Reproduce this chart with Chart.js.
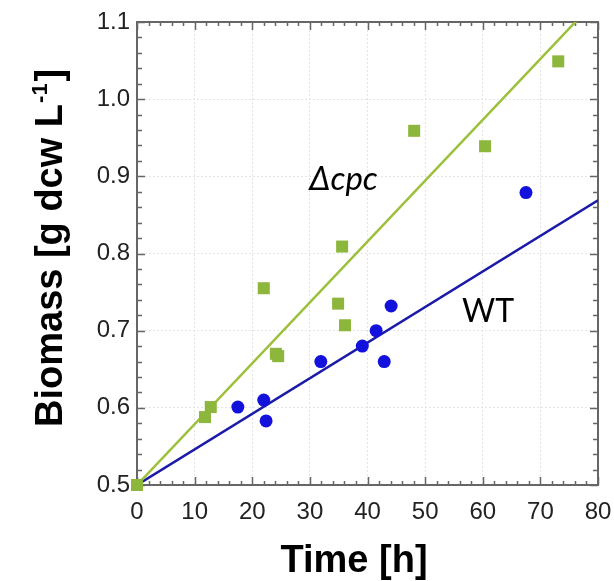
<!DOCTYPE html>
<html lang="en">
<head>
<meta charset="UTF-8">
<title>Biomass over time</title>
<script src="https://cdn.jsdelivr.net/npm/chart.js"></script>
<style>
  html, body { margin: 0; padding: 0; background: #fff; }
</style>
</head>
<body>
<canvas id="growthChart" width="614" height="581"></canvas>
<script>
// measured biomass, time [h] vs g dcw per litre
var cpcTime = [0, 11.8, 12.8, 22.0, 24.1, 24.5, 34.9, 35.6, 36.1, 48.1, 60.4, 73.1];
var cpcBiomass = [0.500, 0.588, 0.601, 0.755, 0.670, 0.667, 0.735, 0.809, 0.707, 0.959, 0.939, 1.049];
var wtTime = [17.5, 22.0, 22.4, 31.9, 39.1, 41.5, 42.9, 44.1, 67.5];
var wtBiomass = [0.601, 0.610, 0.583, 0.660, 0.680, 0.700, 0.660, 0.732, 0.879];

// straight-line fits starting at 0.5
var fitTime = [0, 80];
var cpcFit = [0.5, 1.131];
var wtFit = [0.5, 0.869];

var xTicks = [0, 10, 20, 30, 40, 50, 60, 70, 80];
var yTicks = [0.5, 0.6, 0.7, 0.8, 0.9, 1.0, 1.1];

var cpcGreen = '#8db63c';
var cpcLine = '#9cc03a';
var wtBlue = '#1212dc';
var wtLine = '#1b1ba8';

function pairs(xs, ys) {
  return xs.map(function (x, i) { return { x: x, y: ys[i] }; });
}

// inward tick marks on all four sides, frame, labels and axis titles
var decorPlugin = {
  id: 'decor',
  beforeDatasetsDraw: function (chart) {
    var ctx = chart.ctx, a = chart.chartArea;
    var x = chart.scales.x, y = chart.scales.y;
    ctx.save();
    ctx.strokeStyle = '#666';
    ctx.lineWidth = 1.5;
    ctx.beginPath();
    for (var i = 0; i <= 40; i++) {
      var px = Math.round(x.getPixelForValue(i * 2)) + 0.5;
      var len = i % 5 === 0 ? 8 : 4;
      ctx.moveTo(px, a.bottom); ctx.lineTo(px, a.bottom - len);
      ctx.moveTo(px, a.top); ctx.lineTo(px, a.top + len);
    }
    for (var j = 0; j <= 30; j++) {
      var py = Math.round(y.getPixelForValue(0.5 + j * 0.02)) + 0.5;
      var ylen = j % 5 === 0 ? 8 : 5;
      ctx.moveTo(a.left, py); ctx.lineTo(a.left + ylen, py);
      ctx.moveTo(a.right, py); ctx.lineTo(a.right - ylen, py);
    }
    ctx.stroke();
    ctx.lineWidth = 2;
    ctx.strokeStyle = '#666';
    ctx.strokeRect(a.left, a.top, a.right - a.left, a.bottom - a.top);
    ctx.restore();
  },
  afterDraw: function (chart) {
    var ctx = chart.ctx;
    var x = chart.scales.x, y = chart.scales.y;
    ctx.save();
    ctx.fillStyle = '#000';
    ctx.textBaseline = 'alphabetic';
    ctx.textAlign = 'left';

    ctx.font = 'italic 33px Lato';
    ctx.fillText('\u0394cpc', x.getPixelForValue(29.9), y.getPixelForValue(0.882));
    ctx.font = '32px Lato';
    ctx.fillText('WT', x.getPixelForValue(56.4), y.getPixelForValue(0.711));

    // x axis title
    ctx.font = 'bold 38px "Liberation Sans"';
    ctx.textAlign = 'center';
    ctx.fillText('Time [h]', 354, 572);

    // y axis title with superscript
    ctx.translate(62, 427);
    ctx.rotate(-Math.PI / 2);
    ctx.textAlign = 'left';
    var main = 'Biomass [g dcw L';
    ctx.font = 'bold 38px "Liberation Sans"';
    ctx.fillText(main, 0, 0);
    var w = ctx.measureText(main).width;
    ctx.font = 'bold 22px "Liberation Sans"';
    ctx.fillText('-1', w + 1, -15);
    var w2 = ctx.measureText('-1').width;
    ctx.font = 'bold 38px "Liberation Sans"';
    ctx.fillText(']', w + w2 + 3, 0);
    ctx.restore();
  }
};

var ctx = document.getElementById('growthChart').getContext('2d');
new Chart(ctx, {
  type: 'scatter',
  data: {
    datasets: [
      {
        label: '\u0394cpc',
        data: pairs(cpcTime, cpcBiomass),
        pointStyle: 'rect',
        pointRadius: 8.5,
        backgroundColor: cpcGreen,
        borderColor: cpcGreen,
        borderWidth: 0,
        clip: false
      },
      {
        label: 'WT',
        data: pairs(wtTime, wtBiomass),
        pointStyle: 'circle',
        pointRadius: 6.5,
        backgroundColor: wtBlue,
        borderColor: wtBlue,
        borderWidth: 0,
        clip: false
      },
      {
        label: '\u0394cpc fit',
        data: pairs(fitTime, cpcFit),
        showLine: true,
        pointRadius: 0,
        borderColor: cpcLine,
        borderWidth: 2.5
      },
      {
        label: 'WT fit',
        data: pairs(fitTime, wtFit),
        showLine: true,
        pointRadius: 0,
        borderColor: wtLine,
        borderWidth: 2.5
      }
    ]
  },
  options: {
    responsive: false,
    animation: false,
    devicePixelRatio: 1,
    layout: { padding: { top: 22, right: 16, left: 0, bottom: 0 } },
    plugins: {
      legend: { display: false },
      tooltip: { enabled: false }
    },
    scales: {
      x: {
        type: 'linear',
        min: 0,
        max: 80,
        afterBuildTicks: function (s) { s.ticks = xTicks.map(function (v) { return { value: v }; }); },
        afterFit: function (s) { s.height = 96; s.paddingRight = 0; s.paddingLeft = 0; },
        grid: { color: '#e4e4e4', drawTicks: false },
        border: { display: false, dash: [2, 2] },
        ticks: {
          padding: 13,
          color: '#222',
          font: { family: 'Liberation Sans', size: 24 },
          maxRotation: 0
        }
      },
      y: {
        type: 'linear',
        min: 0.5,
        max: 1.1,
        afterBuildTicks: function (s) { s.ticks = yTicks.map(function (v) { return { value: v }; }); },
        afterFit: function (s) { s.width = 137; s.paddingTop = 0; s.paddingBottom = 0; },
        grid: { color: '#e4e4e4', drawTicks: false },
        border: { display: false, dash: [2, 2] },
        ticks: {
          padding: 7,
          color: '#222',
          font: { family: 'Liberation Sans', size: 24 },
          callback: function (v) { return Number(v).toFixed(1); }
        }
      }
    }
  },
  plugins: [decorPlugin]
});
</script>
</body>
</html>
